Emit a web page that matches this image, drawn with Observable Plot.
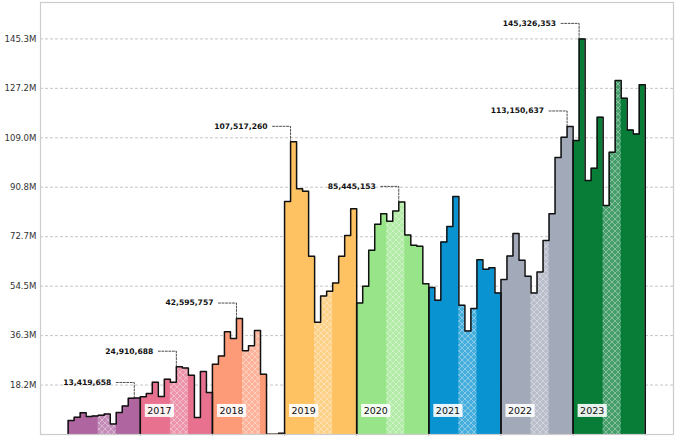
<!DOCTYPE html>
<html>
<head>
<meta charset="utf-8">
<script src="https://cdn.jsdelivr.net/npm/d3@7"></script>
<script src="https://cdn.jsdelivr.net/npm/@observablehq/plot@0.6"></script>
<style>
  html, body { margin: 0; padding: 0; background: #fff; }
  #chart svg { display: block; }
</style>
</head>
<body>
<div id="chart"></div>
<script>
// ---- data ----
const years = [2016, 2017, 2018, 2019, 2020, 2021, 2022, 2023];
const yearLabels = ["", "2017", "2018", "2019", "2020", "2021", "2022", "2023"];
const yearColors = ["#af65a0", "#e7718f", "#fd9a78", "#fec262", "#97e588", "#0993d1", "#a2a9b8", "#077d38"];

// monthly values, millions
const v2016 = [5.1, 6.3, 8.0, 6.6, 6.8, 7.1, 7.5, 3.9, 8.1, 10.5, 13.3, 13.419658];
const v2017 = [13.9, 15.1, 19.2, 14.0, 20.3, 19.2, 24.910688, 24.4, 21.8, 6.2, 23.1, 15.4];
const v2018 = [25.8, 28.8, 37.7, 35.3, 42.595757, 30.8, 32.6, 38.2, 22.1, 0.1, 0.1, 0.5];
const v2019 = [85.6, 107.51726, 90.3, 89.4, 65.5, 41.2, 50.9, 52.6, 55.7, 65.5, 73.1, 82.9];
const v2020 = [48.3, 54.5, 67.7, 77.2, 81.1, 78.3, 82.1, 85.445153, 73.3, 69.5, 69.2, 55.4];
const v2021 = [54.0, 49.3, 70.7, 76.4, 87.4, 47.5, 38.0, 46.3, 64.2, 60.7, 61.3, 52.0];
const v2022 = [56.9, 65.6, 73.8, 64.0, 58.1, 52.0, 59.7, 71.3, 81.1, 101.8, 109.2, 113.150637];
const v2023 = [108.0, 145.326353, 93.3, 97.8, 116.5, 84.1, 103.7, 130.0, 123.5, 111.9, 110.4, 128.5];
const seriesValues = [v2016, v2017, v2018, v2019, v2020, v2021, v2022, v2023];

const hatchMonths = [5, 6, 7];

// annotated peaks: year and month index
const peakYears  = [2016, 2017, 2018, 2019, 2020, 2022, 2023];
const peakMonths = [11, 6, 4, 1, 7, 11, 1];

const yTickLabels = ["18.2M", "36.3M", "54.5M", "72.7M", "90.8M", "109.0M", "127.2M", "145.3M"];

// ---- layout ----
const W = 680, H = 440;
const mL = 40, mR = 7, mT = 2, mB = 6;
const xDomain = [-4.6, 100.7];

// ---- derived tables ----
const M = 1e6;
const maxVal = d3.max(seriesValues.flat()) * M;
const yMax = maxVal * 1.092;
const yTicks = yTickLabels.map((_, k) => maxVal * (k + 1) / yTickLabels.length);

const areaRows = years.flatMap((yr, i) => [
  ...seriesValues[i].map((v, m) => ({year: yr, x: i * 12 + m, value: v * M})),
  {year: yr, x: i * 12 + 12, value: seriesValues[i][11] * M}
]);
const outlineRows = years.flatMap((yr, i) => [
  {year: yr, x: i * 12, value: 0},
  ...areaRows.filter(d => d.year === yr),
  {year: yr, x: i * 12 + 12, value: 0}
]);
const hatchLast = hatchMonths[hatchMonths.length - 1];
const hatchRows = years.flatMap((yr, i) => [
  ...hatchMonths.map(m => ({year: yr, x: i * 12 + m, value: seriesValues[i][m] * M})),
  {year: yr, x: i * 12 + hatchLast + 1, value: seriesValues[i][hatchLast] * M}
]);

const peaks = peakYears.map((yr, k) => {
  const i = years.indexOf(yr), m = peakMonths[k];
  return {year: yr, x: i * 12 + m, value: Math.round(seriesValues[i][m] * M)};
});

// pixel -> data helpers (derived from the scale configuration)
const pxX = (xDomain[1] - xDomain[0]) / (W - mL - mR);
const pxY = yMax / (H - mT - mB);
const connOffX = 18, connOffY = 15.5;
const connectorRows = peaks.flatMap((p, k) => [
  {k, x: p.x - connOffX * pxX, value: p.value + connOffY * pxY},
  {k, x: p.x, value: p.value + connOffY * pxY},
  {k, x: p.x, value: p.value}
]);

const yearLabelRows = years.map((yr, i) => ({x: i * 12, label: yearLabels[i]})).filter(d => d.label);

const defsMark = () => {
  const defs = d3.create("svg:defs");
  defs.html(`<pattern id="xhatch" width="6" height="6" patternUnits="userSpaceOnUse">
      <path d="M-1,-1L7,7M7,-1L-1,7" stroke="white" stroke-width="0.65" stroke-opacity="0.55" fill="none"/>
    </pattern>`);
  return defs.node();
};

const chart = Plot.plot({
  width: W, height: H,
  marginLeft: mL, marginRight: mR, marginTop: mT, marginBottom: mB,
  style: {fontFamily: "DejaVu Sans, sans-serif", background: "#fff"},
  x: {domain: xDomain, axis: null},
  y: {domain: [0, yMax], axis: null},
  color: {type: "ordinal", domain: years, range: yearColors},
  marks: [
    defsMark,
    Plot.gridY(yTicks, {stroke: "#b5b5b5", strokeOpacity: 1, strokeWidth: 0.8, strokeDasharray: "3,2"}),
    Plot.areaY(areaRows, {x: "x", y1: 0, y2: "value", z: "year", fill: "year", curve: "step-after"}),
    Plot.areaY(hatchRows, {x: "x", y1: 0, y2: "value", z: "year", fill: "white", fillOpacity: 0.25, curve: "step-after"}),
    Plot.areaY(hatchRows, {x: "x", y1: 0, y2: "value", z: "year", fill: "url(#xhatch)", curve: "step-after"}),
    Plot.line(outlineRows, {x: "x", y: "value", z: "year", curve: "step-after", stroke: "#111", strokeWidth: 1.5}),
    Plot.line(connectorRows, {x: "x", y: "value", z: "k", stroke: "#222", strokeWidth: 0.8, strokeDasharray: "2,1.5"}),
    Plot.text(peaks, {x: "x", y: "value", text: d => d3.format(",")(d.value), dx: -23, dy: -15.5,
      textAnchor: "end", lineAnchor: "middle", fontWeight: "bold", fontSize: 7.6, fill: "#111"}),
    Plot.text(yearLabelRows, {x: "x", y: () => 0, text: "label", dx: 7, dy: -23.6,
      textAnchor: "start", lineAnchor: "middle", fontSize: 9.5, fill: "#111"}),
    Plot.axisY(yTicks, {tickSize: 0, tickPadding: 4, fontSize: 8.6, fill: "#333", label: null,
      tickFormat: (d, i) => yTickLabels[i]}),
    Plot.frame({stroke: "#cccccc", strokeWidth: 1.2})
  ]
});

document.getElementById("chart").append(chart);

// white boxes behind the year labels
const ns = "http://www.w3.org/2000/svg";
chart.querySelectorAll("text").forEach(t => {
  if (!yearLabels.includes(t.textContent) || !t.textContent) return;
  const b = t.getBBox();
  const r = document.createElementNS(ns, "rect");
  r.setAttribute("x", b.x - 2.5);
  r.setAttribute("y", b.y - 1);
  r.setAttribute("width", b.width + 5);
  r.setAttribute("height", b.height + 2);
  r.setAttribute("fill", "white");
  r.setAttribute("fill-opacity", "0.9");
  const tr = t.getAttribute("transform");
  if (tr) r.setAttribute("transform", tr);
  t.parentNode.insertBefore(r, t);
});
</script>
</body>
</html>
